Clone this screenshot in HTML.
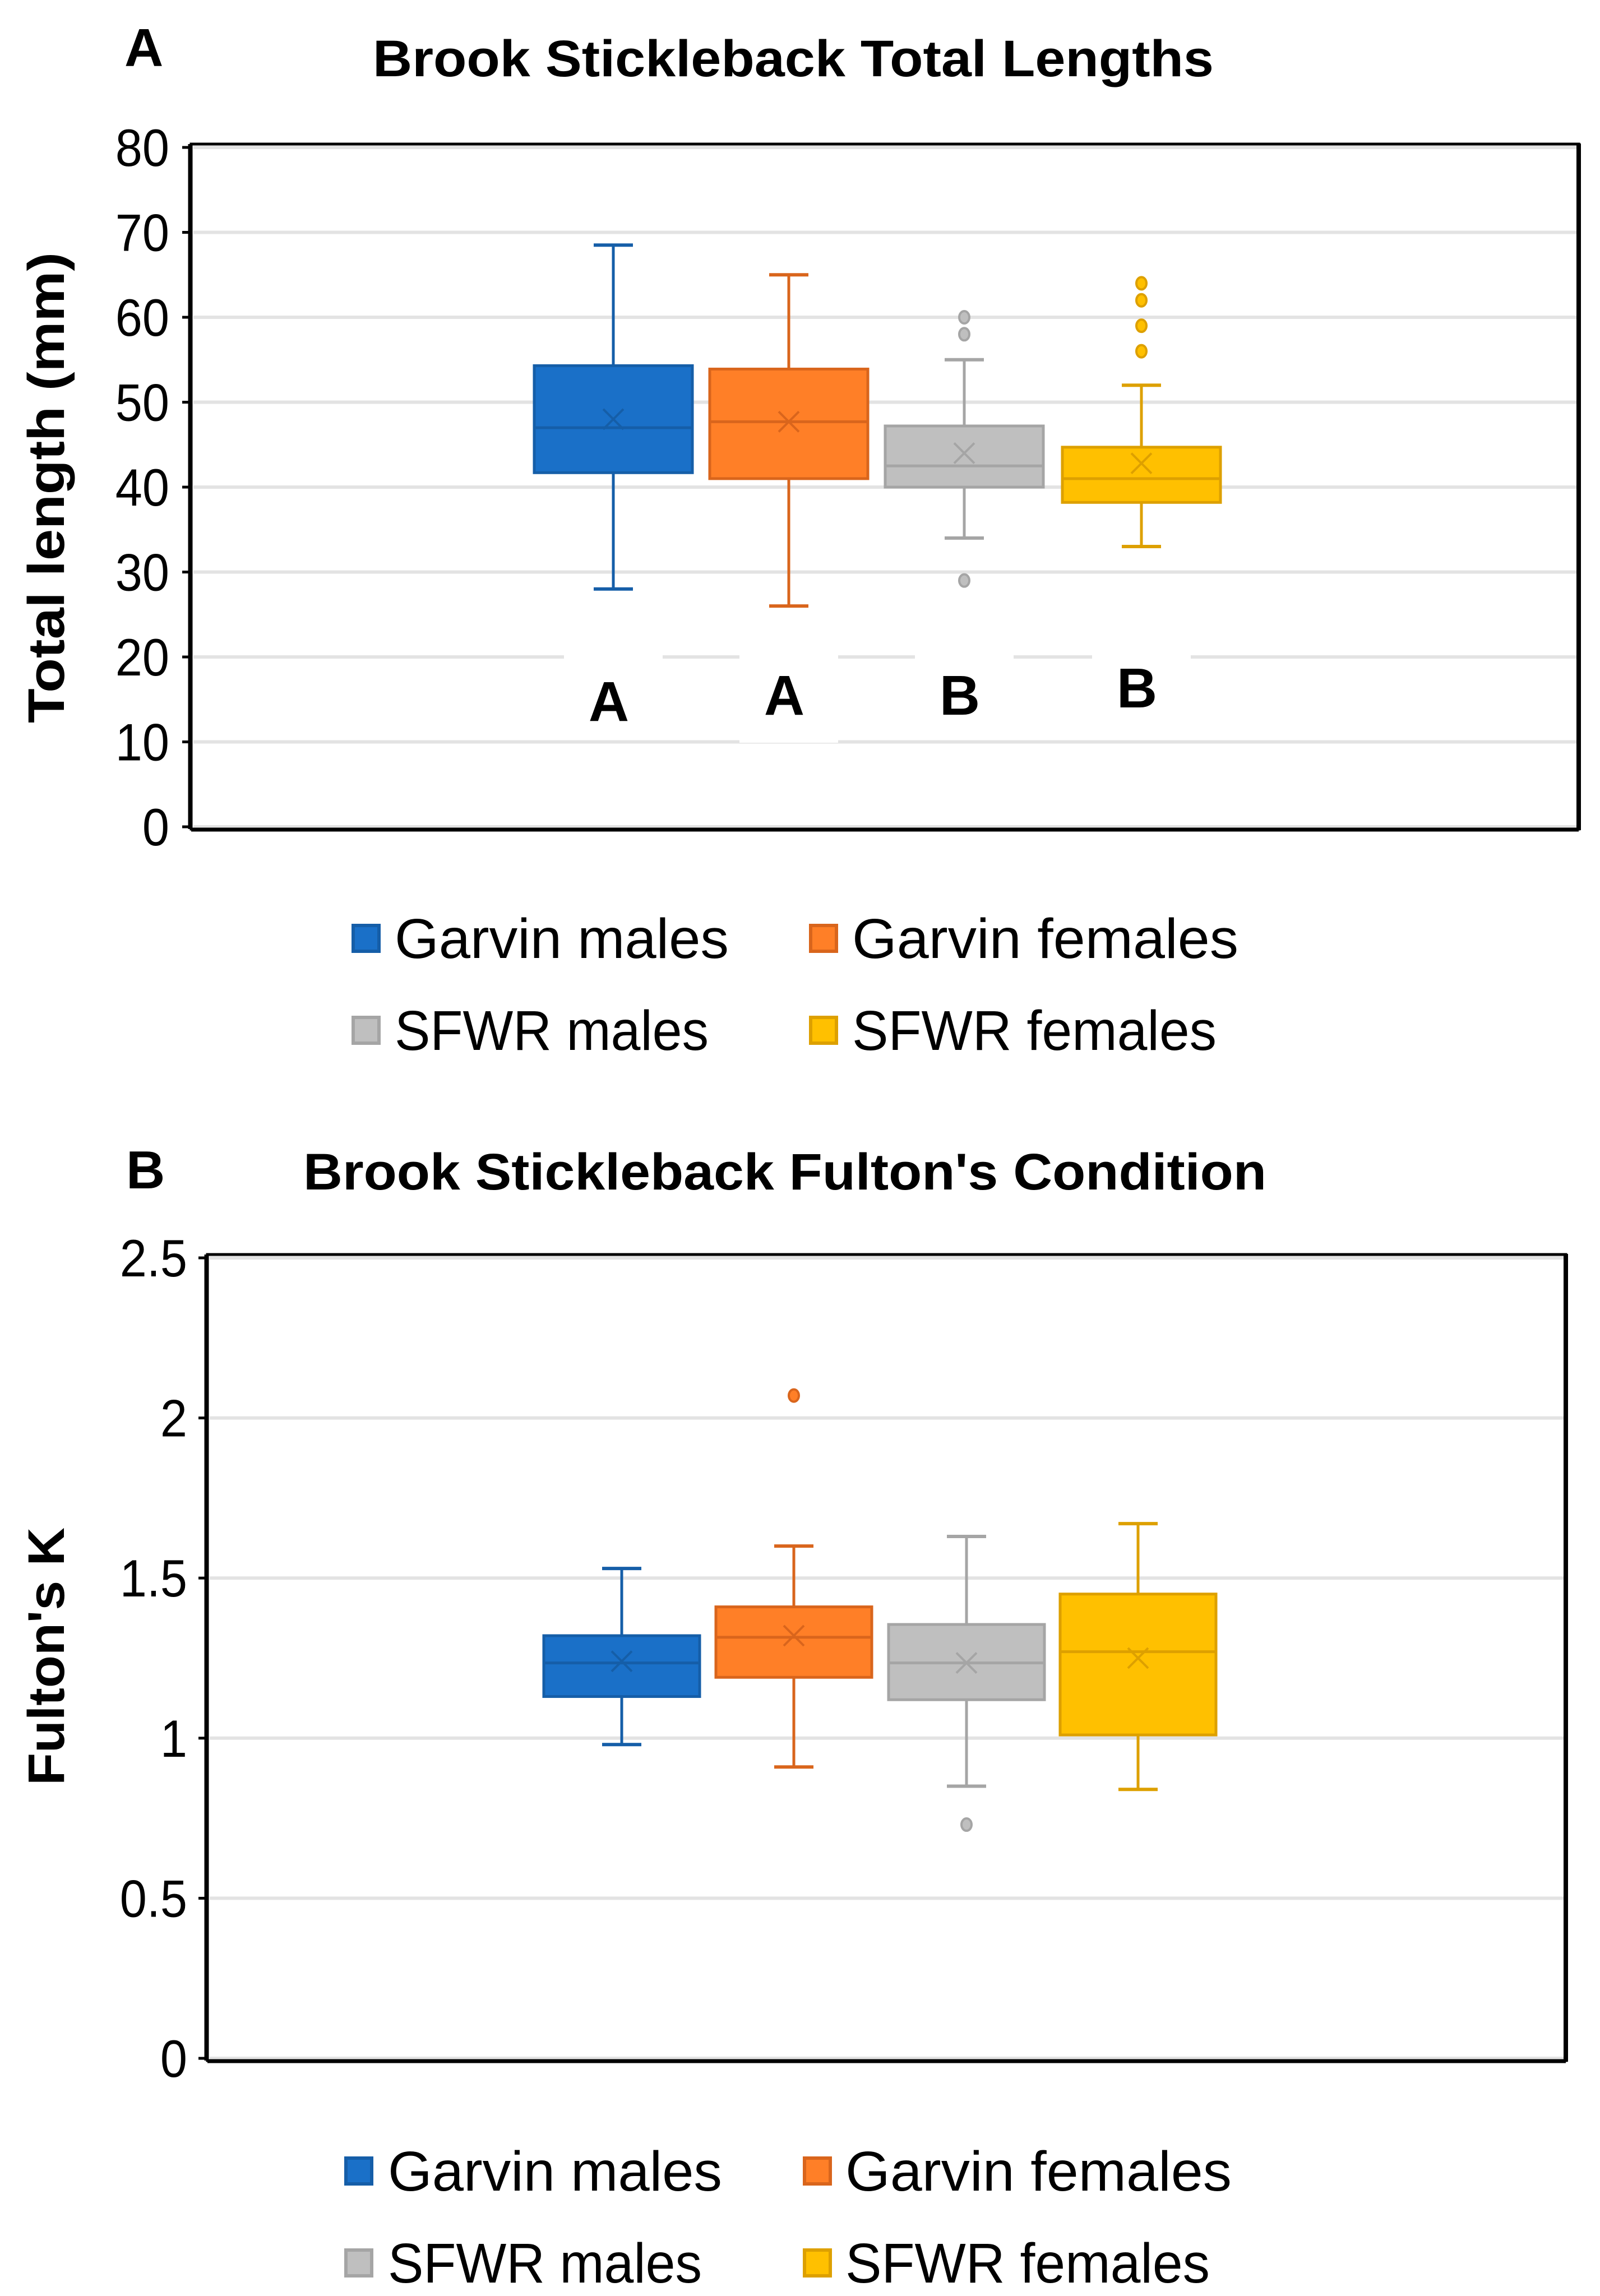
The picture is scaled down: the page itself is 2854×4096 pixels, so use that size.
<!DOCTYPE html>
<html><head><meta charset="utf-8">
<style>
html,body{margin:0;padding:0;background:#fff;}
svg{display:block;}
text{font-family:"Liberation Sans",sans-serif;fill:#000;}
</style></head>
<body>
<svg id="fig" width="2854" height="4096" viewBox="0 0 2854 4096" xmlns="http://www.w3.org/2000/svg">
  <rect x="0" y="0" width="2854" height="4096" fill="#fff"/>
  <g id="chartA"></g>
  <g id="chartB"></g>
</svg>
<script>
const seriesNames = ["Garvin males","Garvin females","SFWR males","SFWR females"];
const fills = ["#1a70c8","#ff7f27","#bfbfbf","#ffc000"];
const strokes = ["#155ea8","#d9651c","#a5a5a5","#dda000"];

// Chart A data
const aMin = [28, 26, 34, 33];
const aQ1 = [41.7, 41, 40, 38.2];
const aMed = [47, 47.7, 42.5, 41];
const aQ3 = [54.3, 53.9, 47.2, 44.7];
const aMax = [68.5, 65, 55, 52];
const aMean = [48, 47.7, 44, 42.8];
const aOutliers = [[], [], [60, 58, 29], [64, 62, 59, 56]];
const aTicks = [0,10,20,30,40,50,60,70,80];
const aTickLabels = ["0","10","20","30","40","50","60","70","80"];
const aLetters = ["A","A","B","B"];

// Chart B data
const bMin = [0.98, 0.91, 0.85, 0.84];
const bQ1 = [1.13, 1.19, 1.12, 1.01];
const bMed = [1.235, 1.315, 1.235, 1.27];
const bQ3 = [1.32, 1.41, 1.355, 1.45];
const bMax = [1.53, 1.60, 1.63, 1.67];
const bMean = [1.24, 1.32, 1.235, 1.25];
const bOutliers = [[], [2.07], [0.73], []];
const bTicks = [0,0.5,1,1.5,2,2.5];
const bTickLabels = ["0","0.5","1","1.5","2","2.5"];

const NS = "http://www.w3.org/2000/svg";
function mk(parent, tag, attrs, text){
  const e = document.createElementNS(NS, tag);
  for (const k in attrs) e.setAttribute(k, attrs[k]);
  if (text !== undefined) e.textContent = text;
  parent.appendChild(e);
  return e;
}

function drawChart(g, cfg){
  const {x0,x1,yTop,yBot,vmax,centers,boxW,min,q1,med,q3,max,mean,outl,ticks,tickLabels,tickRight} = cfg;
  const y = v => yBot - (v / vmax) * (yBot - yTop);
  ticks.forEach((t,i) => {
    const gl = mk(g,"line",{x1:x0+4,x2:x1-4,y1:y(t),y2:y(t),stroke:"#e3e3e3","stroke-width":6});
    
    
    const tk = mk(g,"line",{x1:x0-16,x2:x0,y1:y(t),y2:y(t),stroke:"#000","stroke-width":5});
    
    
    const tl = mk(g,"text",{x:tickRight,y:y(t)+33,"text-anchor":"end","font-size":94,"transform":`translate(${tickRight},0) scale(0.92,1) translate(${-tickRight},0)`},tickLabels[i]);
    
    
  });
  const fr = mk(g,"rect",{x:x0,y:yTop-6,width:x1-x0,height:yBot-yTop+10,fill:"none",stroke:"#000","stroke-width":5});
  
  
  mk(g,"line",{x1:x1,x2:x1,y1:yTop-7,y2:yBot+6,stroke:"#000","stroke-width":8});
  mk(g,"line",{x1:x0-4,x2:x0-4,y1:yTop-6,y2:yBot+4,stroke:"#000","stroke-width":3});
  mk(g,"line",{x1:x0,x2:x1,y1:yBot+5,y2:yBot+5,stroke:"#000","stroke-width":7});
  if (cfg.letters){
    cfg.letters.forEach((L,i)=>{
      const bg = mk(g,"rect",{x:centers[i]-88,y:cfg.letterY[i]-120,width:176,height:i===1?170:140,fill:"#fff"});
      
      
    });
  }
  centers.forEach((cx,i)=>{
    const bg = mk(g,"g",{});
    
    
    const s = strokes[i], sw = 5, cap = 70;
    mk(bg,"line",{x1:cx,x2:cx,y1:y(max[i]),y2:y(q3[i]),stroke:s,"stroke-width":sw});
    mk(bg,"line",{x1:cx,x2:cx,y1:y(q1[i]),y2:y(min[i]),stroke:s,"stroke-width":sw});
    mk(bg,"line",{x1:cx-cap/2,x2:cx+cap/2,y1:y(max[i]),y2:y(max[i]),stroke:s,"stroke-width":sw+1});
    mk(bg,"line",{x1:cx-cap/2,x2:cx+cap/2,y1:y(min[i]),y2:y(min[i]),stroke:s,"stroke-width":sw+1});
    mk(bg,"rect",{x:cx-boxW/2,y:y(q3[i]),width:boxW,height:y(q1[i])-y(q3[i]),fill:fills[i],stroke:s,"stroke-width":sw});
    mk(bg,"line",{x1:cx-boxW/2,x2:cx+boxW/2,y1:y(med[i]),y2:y(med[i]),stroke:s,"stroke-width":sw});
    const my = y(mean[i]), m = 18;
    mk(bg,"path",{d:`M${cx-m},${my-m}L${cx+m},${my+m}M${cx-m},${my+m}L${cx+m},${my-m}`,stroke:s,"stroke-width":4,fill:"none"});
    outl[i].forEach(v=>{
      const c = mk(bg,"ellipse",{cx:cx,cy:y(v),rx:9,ry:11,fill:fills[i],stroke:s,"stroke-width":4});
      
      
    });
  });
  if (cfg.letters){
    cfg.letters.forEach((L,i)=>{
      const t = mk(g,"text",{x:centers[i]-8,y:cfg.letterY[i],"text-anchor":"middle","font-size":100,"font-weight":"bold"},L);
      
      
    });
  }
}

const gA = document.getElementById("chartA");
const gB = document.getElementById("chartB");

drawChart(gA,{x0:341,x1:2816,yTop:263,yBot:1475,vmax:80,centers:[1094,1407,1720,2036],boxW:282,
  min:aMin,q1:aQ1,med:aMed,q3:aQ3,max:aMax,mean:aMean,outl:aOutliers,ticks:aTicks,tickLabels:aTickLabels,tickRight:302,
  letters:aLetters,letterY:[1286,1275,1275,1262]});
drawChart(gB,{x0:370,x1:2793,yTop:2244,yBot:3672,vmax:2.5,centers:[1109,1416,1724,2030],boxW:278,
  min:bMin,q1:bQ1,med:bMed,q3:bQ3,max:bMax,mean:bMean,outl:bOutliers,ticks:bTicks,tickLabels:bTickLabels,tickRight:334});

function txt(g, name, attrs, s){
  const t = mk(g,"text",attrs,s);
  
  
  return t;
}
txt(gA,"panel-label-a",{x:222,y:118,"font-size":96,"font-weight":"bold"},"A");
txt(gA,"chart-title",{x:665,y:136,"font-size":92,"font-weight":"bold",textLength:1500,lengthAdjust:"spacingAndGlyphs"},"Brook Stickleback Total Lengths");
txt(gA,"y-axis-title",{x:0,y:0,"font-size":92,"font-weight":"bold",textLength:840,lengthAdjust:"spacingAndGlyphs","text-anchor":"middle",transform:"translate(114,870) rotate(-90)"},"Total length (mm)");
txt(gB,"panel-label-b",{x:225,y:2120,"font-size":96,"font-weight":"bold"},"B");
txt(gB,"chart-title",{x:541,y:2122,"font-size":92,"font-weight":"bold",textLength:1718,lengthAdjust:"spacingAndGlyphs"},"Brook Stickleback Fulton's Condition");
txt(gB,"y-axis-title",{x:0,y:0,"font-size":92,"font-weight":"bold",textLength:460,lengthAdjust:"spacingAndGlyphs","text-anchor":"middle",transform:"translate(114,2955) rotate(-90)"},"Fulton's K");

function legend(g, sq, tx, rows, widths){
  seriesNames.forEach((n,i)=>{
    const col = i%2, row = Math.floor(i/2);
    const e = mk(g,"g",{});
    
    
    mk(e,"rect",{x:sq[col]+3,y:rows[row]-58,width:46,height:46,fill:fills[i],stroke:strokes[i],"stroke-width":6});
    mk(e,"text",{x:tx[col],y:rows[row],"font-size":100,textLength:widths[i],lengthAdjust:"spacingAndGlyphs"},n);
  });
}
legend(gA,[627,1443],[704,1520],[1709,1873],[596,689,560,650]);
legend(gB,[614,1432],[692,1508],[3908,4072],[596,689,560,650]);
</script>
</body></html>
